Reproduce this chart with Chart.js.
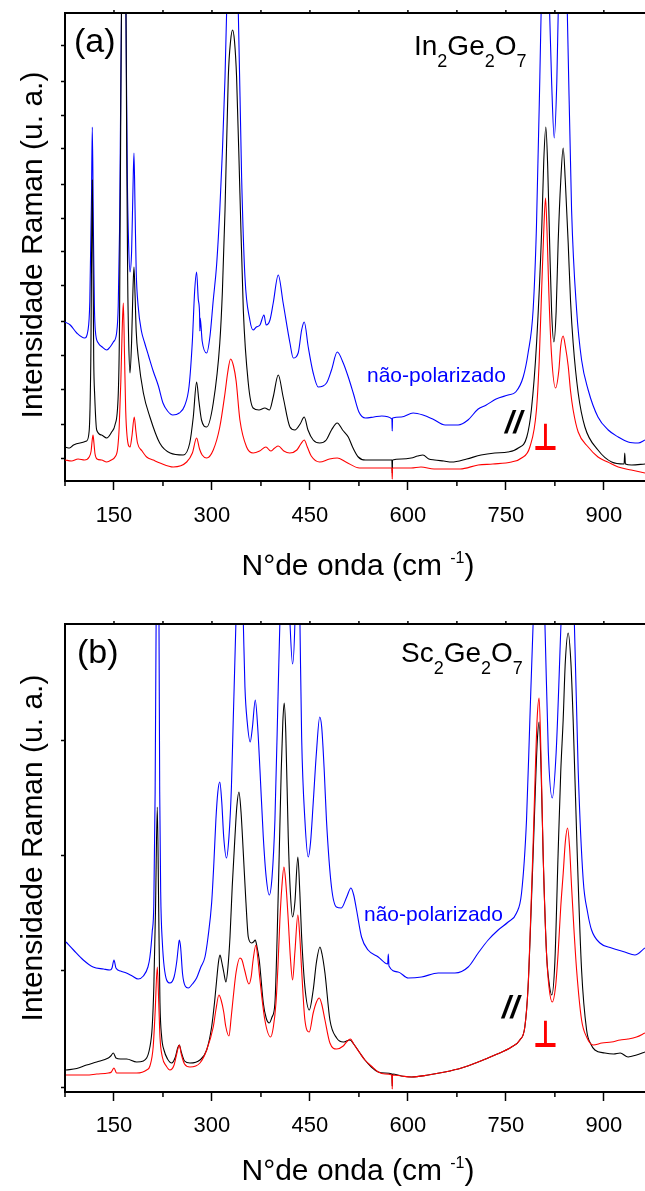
<!DOCTYPE html>
<html>
<head>
<meta charset="utf-8">
<script src="https://cdn.jsdelivr.net/npm/chart.js@4"></script>
<style>
  html, body { margin: 0; padding: 0; background: #fff; }
  canvas { display: block; }
</style>
</head>
<body>
<canvas id="panelA" width="645" height="596"></canvas>
<canvas id="panelB" width="645" height="595"></canvas>
<script>
// Raman spectra of In2Ge2O7 (a) and Sc2Ge2O7 (b): unpolarised, parallel (//) and crossed (⊥)
// wavenumber in cm-1, intensity in arbitrary units

const xMajor = [150, 300, 450, 600, 750, 900];
const xMinor = [75, 225, 375, 525, 675, 825];
const yTicksA = [23, 57, 92, 126, 160, 195, 229, 263, 297, 332, 366, 400, 435];
const yTicksB = [5, 122, 237, 352];

// (a) In2Ge2O7
const inUnpol = [[75,159],[83,156],[93,148],[105,143],[110,150],[113,180],[115.5,280],[116.8,354],[118.5,250],[120,175],[121.5,150],[126,138],[132,134],[139,131],[144,134],[149,139],[154,148],[156.5,175],[158.5,250],[160.5,400],[163,560],[165.5,600],[168.4,460],[170.5,300],[172.5,235],[174.5,209],[177,230],[179,290],[180.6,328],[182.3,270],[184,210],[187,175],[192,150],[197,138],[203,125],[210,110],[218,95],[225,78],[232,70],[240,66],[250,68],[258,75],[265,95],[270,140],[273.5,190],[276.5,209],[279,182],[281,168],[281.5,150],[282,163],[285,140],[291.9,128],[297,145],[302,181],[307,215],[312,271],[316,330],[320,404],[322.5,470],[331,620],[340.3,470],[345.4,304],[350.5,204],[358,161],[363,151],[368,154],[373.5,156],[379.6,166],[383,156],[388.8,161],[393.8,178],[401.5,206],[409,178],[419.4,138],[424.5,123],[432,128],[437.3,151],[441.3,159],[447.4,134],[455,108],[462.7,94],[475.4,98],[483,111],[491.8,129],[501,118],[508.7,104],[516.3,88],[525,69],[535,63],[548,64],[560,65],[575.5,62],[576,50],[576.5,63],[590,64],[608,68],[623,66],[638,62],[657,56],[677,56],[692,61],[707.6,72],[720,76],[735,82],[753.5,86],[765,89],[776.5,104],[784,128],[791.7,171],[796.8,254],[802,404],[804,470],[810,620],[816.5,480],[820,400],[824,343],[828,400],[830.5,480],[838,620],[844,470],[850.6,271],[858.3,171],[865.9,121],[876,91],[891,64],[906.7,51],[922,44],[937.3,39],[952.6,38],[963,41]];
const inPar = [[75,34],[82,33],[88,36],[98,38],[108,40],[112,50],[114.5,120],[116.8,301],[119,120],[120.5,85],[123.5,51],[131,46],[138.8,43],[146.4,49],[151.5,56],[156.6,88],[158.5,160],[160.5,380],[162,520],[165,650],[168,520],[169.5,330],[171,200],[172.5,140],[174.5,108],[177,140],[179,190],[180.6,214],[182.3,185],[184,150],[187.2,124],[195,88],[205,64],[220,38],[236,28],[256,26],[266,38],[271.4,64],[276.5,99],[280,80],[284,61],[291.9,54],[302,78],[312,138],[316,190],[320,271],[325,404],[328.5,440],[331.6,451],[334.5,440],[337.7,404],[342.8,288],[348,171],[355.6,98],[363,73],[372,71],[381,73],[388,71],[393.8,84],[401.5,106],[409,84],[419.4,54],[427,51],[435,57],[441.3,64],[447,51],[455,41],[465,38],[475,41],[483,51],[491.8,58],[500,51],[508.7,44],[516,33],[524,24],[535,21],[555,21],[575.5,21],[576,8],[576.5,21],[590,22],[605,23],[615,25],[623,26],[632,22],[641,21],[655,20],[667,19],[690,22],[712,26],[733,28],[753,29],[769,33],[782,44],[789,71],[797,138],[805,254],[808,320],[811.2,354],[814,315],[817,238],[820,170],[823.5,139],[827,170],[830,238],[834,300],[837.7,333],[841,300],[845.4,238],[849,180],[853,138],[860.7,88],[871,54],[891,31],[912,19],[931,17],[932,28],[933,17],[942.5,16],[963,17]];
const inPerp = [[75,21],[85,20],[95,22],[105,21],[112,24],[115,30],[116.5,40],[117.9,46],[119.3,38],[121,27],[124,22],[131,21],[138.8,19],[146,21],[151.5,24],[155.5,32],[158,54],[160.5,100],[162.5,150],[164.3,178],[166,130],[167.9,71],[170,45],[174.5,34],[177.5,45],[181,64],[183.5,50],[186,38],[193,30],[200,24],[210,21],[220.4,18],[240.8,14],[261.3,19],[270,28],[276.5,43],[281,32],[285,26],[291.9,23],[302,31],[312,54],[320,88],[324,108],[328.5,122],[333,115],[337,100],[342.8,61],[353,34],[363,28],[373,30],[382.6,34],[390,30],[396,33],[401.5,35],[410,30],[419,28],[430,31],[436,37],[441.3,41],[446,34],[452,25],[465,19],[480,22],[491.8,23],[505,19],[526,13],[545,13],[560,13],[575.5,13],[576,2],[576.5,13],[590,13],[605,13],[620,14],[640,12],[660,12],[680,12],[707.6,16],[730,17],[758.6,19],[774,23],[786.7,34],[796.8,71],[801,120],[804.6,188],[808,250],[810.7,283],[813,250],[815.8,188],[820,125],[826,93],[831,110],[834,135],[837.7,145],[841,135],[845.4,115],[849,90],[853,71],[860.7,49],[876,34],[891,24],[906,19],[922,14],[942,11],[963,8]];

// (b) Sc2Ge2O7
const scUnpol = [[76.5,150],[88,142],[103,132],[118,125],[134,123],[144,122],[147,124],[150,132],[153,124],[160,121],[169,119],[178,116],[187,113],[195,116],[202,125],[205,135],[208.5,160],[211,189],[213,300],[214.5,470],[216.5,620],[218.9,470],[220,300],[221.5,200],[224,150],[230.6,112],[235.7,109],[242,115],[246,130],[248.5,145],[250,152],[252,145],[255,118],[259,106],[263.8,104],[270,108],[276.5,114],[283,125],[289.3,135],[294,155],[299.5,189],[303,230],[306,272],[309,300],[312,310],[315,290],[318,255],[322.2,234],[326,255],[329.8,305],[332.5,370],[336.7,470],[342,620],[348,470],[350.5,405],[354,370],[358.6,350],[362,365],[366.3,392],[370,365],[373.5,322],[378.6,255],[383,215],[387.8,197],[392,215],[396.4,272],[401.5,405],[404,470],[411,620],[419.4,470],[423.4,428],[427,470],[431,620],[434.7,470],[437.3,355],[442.3,272],[447.4,235],[451,250],[455,289],[460,340],[465,375],[468,365],[472,320],[475.3,272],[483,205],[490.6,185],[498,184],[506.3,195],[512.8,204],[517,197],[521.4,182],[529,155],[539,142],[554.6,135],[569,128],[570,138],[571,126],[585,120],[600.5,114],[620.8,115],[646.4,119],[672,119],[692.3,125],[707.6,139],[722.9,152],[738.2,162],[753.5,170],[766.3,179],[774,199],[781.6,272],[786.7,372],[791.8,470],[801,620],[809.7,470],[815,340],[821,294],[827,340],[834.5,470],[844,620],[854.8,470],[860.7,322],[868.4,212],[875,180],[881.2,162],[894,149],[911.8,144],[932,140],[947.5,137],[962.8,144]];
const scPar = [[76.5,22],[93,23.5],[108,27],[123.5,30],[141.3,34],[145,36],[149,39],[153,34],[160,33],[169.4,33],[184.7,30],[195,31],[205,45],[208.5,65],[211,105],[213.5,180],[216.3,285],[218.5,180],[220.4,89],[223,55],[226.5,42],[232,33],[238.3,29],[244,35],[247.5,44],[250,47],[253,40],[258,31],[266.3,29],[281.6,32],[291.9,42],[299.5,65],[304,90],[307.2,112],[310,130],[312.3,137],[315,130],[318,120],[321.4,110],[324.5,125],[327.6,155],[331,205],[335.2,255],[338,285],[341.3,300],[344.5,280],[348,239],[352,190],[355.6,155],[360.7,149],[363.5,150],[366.3,152],[369,145],[372.4,132],[378.6,89],[383,74],[387.8,69],[392,75],[396.4,89],[400,160],[403,239],[406,320],[408.5,370],[410.6,389],[413,360],[416.8,255],[420,200],[423.4,175],[427,190],[431.5,235],[434.5,200],[437.3,155],[442.3,105],[449,82],[455,102],[460,130],[465.3,145],[468.5,138],[473,119],[480.6,72],[490.9,54],[501,50],[506,51],[511.2,52],[517,48],[526.5,39],[534.2,32],[544,25],[554.6,20],[565,19],[575.5,18],[576,6],[576.5,18],[590,16],[605.6,15],[631,17],[656.6,20],[682,24],[707.6,30],[733.2,37],[758.6,45],[771.4,52],[779,65],[784,105],[788,170],[791.8,239],[795,300],[798,350],[800.9,370],[804,320],[807,239],[812.2,139],[816,110],[820.3,97],[825,130],[830,239],[834,320],[837.7,372],[841,430],[845.4,459],[849.5,430],[853,372],[859.2,239],[865.9,122],[873.6,62],[880,48],[886.3,42],[901.6,39],[915,38],[925,39],[937,35],[950,37],[963,40]];
const scPerp = [[76.5,17],[93,17],[108,17],[123.5,18],[141.3,19],[146,20],[150,24],[154,19],[169.4,19],[184.7,19],[200,22],[205,26],[210,45],[213,80],[216.3,125],[218.5,90],[220.4,55],[224,35],[230,26],[235.7,22],[242,27],[246,38],[250,47],[253,38],[258,28],[266.3,25],[281.6,29],[291.9,42],[302,65],[306,82],[310.7,97],[314,92],[318,80],[321,66],[326,56],[329.5,75],[332.6,95],[337,120],[342.8,134],[346,132],[350,122],[356.6,108],[360,115],[363,132],[367.3,147],[370,135],[373.5,112],[381,72],[389.8,55],[394,65],[398,89],[401,125],[404,172],[407,205],[410.2,225],[413,210],[416.8,172],[420,135],[423.4,112],[427,140],[431.5,177],[434.5,155],[437.3,122],[442.3,72],[449,60],[455,79],[460,90],[464.3,94],[468,88],[473,72],[480.6,49],[490.9,43],[501,46],[506,50],[512.2,53],[517,48],[526.5,39],[534.2,32],[544,26],[554.6,20],[565,18],[575.5,17],[576,3],[576.5,17],[590,16],[605.6,15],[631,17],[656.6,20],[682,24],[707.6,30],[733.2,37],[758.6,45],[771.4,52],[779,65],[784,105],[788,175],[791.8,250],[795,320],[798,375],[800.9,394],[804,330],[807,239],[812.2,139],[816,105],[821,90],[826,105],[830,139],[834,185],[837.8,219],[841,250],[844.4,264],[847.5,245],[850.6,205],[854,165],[858.3,122],[865.9,72],[873.6,55],[883.7,47],[897,49],[911.8,50],[925,52],[937,53],[950,55],[963,59]];

const SANS = '"Liberation Sans", Arial, Helvetica, sans-serif';

function toPoints(pairs) {
  return pairs.map(([x, y]) => ({ x, y }));
}

// draws a row of text runs: [text, fontSize, baselineShift]
function drawRuns(ctx, x, y, runs) {
  runs.forEach(([txt, size, dy]) => {
    ctx.font = size + 'px ' + SANS;
    ctx.fillText(txt, x, y + dy);
    x += ctx.measureText(txt).width;
  });
}

function runsWidth(ctx, runs) {
  let w = 0;
  runs.forEach(([txt, size]) => {
    ctx.font = size + 'px ' + SANS;
    w += ctx.measureText(txt).width;
  });
  return w;
}

function makeFrame(o) {
  return {
    id: 'frame',
    afterDraw(chart) {
      const { ctx, chartArea: a } = chart;
      const x = chart.scales.x;
      ctx.save();
      ctx.strokeStyle = '#000';
      ctx.fillStyle = '#000';

      // top border
      ctx.lineWidth = 2;
      ctx.beginPath();
      ctx.moveTo(a.left - 1, a.top);
      ctx.lineTo(a.right, a.top);
      ctx.stroke();

      // minor ticks below the axis, short ticks above the top border
      ctx.lineWidth = 1.5;
      ctx.beginPath();
      xMinor.forEach(v => {
        const px = x.getPixelForValue(v);
        ctx.moveTo(px, a.bottom);
        ctx.lineTo(px, a.bottom + 5);
      });
      xMajor.concat(xMinor.slice(1)).forEach(v => {
        const px = x.getPixelForValue(v);
        ctx.moveTo(px, a.top);
        ctx.lineTo(px, a.top - 3);
      });
      ctx.stroke();

      // y axis title
      ctx.save();
      ctx.translate(42, o.yTitleY);
      ctx.rotate(-Math.PI / 2);
      ctx.textAlign = 'center';
      ctx.font = '30px ' + SANS;
      ctx.fillText('Intensidade Raman (u. a.)', 0, 0);
      ctx.restore();

      // x axis title with superscript
      const xt = [['N°de onda (cm ', 30, 0], ['-1', 16, -12], [')', 30, 0]];
      drawRuns(ctx, 358 - runsWidth(ctx, xt) / 2, o.xTitleY, xt);

      // panel letter and compound
      ctx.font = '34px ' + SANS;
      ctx.fillText(o.label, o.labelPos[0], o.labelPos[1]);
      drawRuns(ctx, o.formulaPos[0], o.formulaPos[1],
        o.formula.map(([t, sub]) => sub ? [t, 18, 12] : [t, 28, 0]));

      // curve labels
      ctx.fillStyle = '#0000ff';
      ctx.font = '21px ' + SANS;
      ctx.fillText('não-polarizado', o.unpolPos[0], o.unpolPos[1]);

      ctx.fillStyle = '#000';
      ctx.font = 'italic bold 31px ' + SANS;
      ctx.fillText('//', o.parPos[0], o.parPos[1]);

      // crossed-polarisation mark, fitted to its box
      ctx.fillStyle = '#ff0000';
      ctx.font = 'bold 40px "DejaVu Sans"';
      const m = ctx.measureText('⊥');
      const gw = m.actualBoundingBoxLeft + m.actualBoundingBoxRight;
      const gh = m.actualBoundingBoxAscent + m.actualBoundingBoxDescent;
      const [bx, by, bw, bh] = o.perpBox;
      ctx.translate(bx, by);
      ctx.scale(bw / gw, bh / gh);
      ctx.fillText('⊥', m.actualBoundingBoxLeft, m.actualBoundingBoxAscent);
      ctx.restore();
    }
  };
}

function panel(canvasId, o) {
  return new Chart(document.getElementById(canvasId), {
    type: 'line',
    data: {
      datasets: [
        { data: toPoints(o.perp), borderColor: '#ff0000' },
        { data: toPoints(o.par), borderColor: '#000000' },
        { data: toPoints(o.unpol), borderColor: '#0000ff' }
      ]
    },
    options: {
      responsive: false,
      animation: false,
      events: [],
      layout: { padding: { top: o.top, left: 0, right: 0, bottom: 0 } },
      elements: {
        point: { radius: 0 },
        line: { borderWidth: 1.1, cubicInterpolationMode: 'monotone', fill: false }
      },
      plugins: { legend: { display: false }, tooltip: { enabled: false } },
      scales: {
        x: {
          type: 'linear',
          min: 75,
          max: 963,
          afterBuildTicks: s => { s.ticks = xMajor.map(v => ({ value: v })); },
          afterFit: s => { s.height = o.axisH; },
          ticks: { color: '#000', font: { family: SANS, size: 22 }, padding: o.labelPad, maxRotation: 0, autoSkip: false },
          grid: { drawOnChartArea: false, drawTicks: true, tickLength: 9, tickWidth: 1.5, tickColor: '#000' },
          border: { display: true, color: '#000', width: 2 }
        },
        y: {
          type: 'linear',
          min: 0,
          max: 468,
          afterBuildTicks: s => { s.ticks = o.yTicks.map(v => ({ value: v })); },
          afterFit: s => { s.width = 65; },
          ticks: { display: false },
          grid: { drawOnChartArea: false, drawTicks: true, tickLength: 4, tickWidth: 1.5, tickColor: '#000' },
          border: { display: true, color: '#000', width: 2 }
        }
      }
    },
    plugins: [makeFrame(o)]
  });
}

panel('panelA', {
  top: 13, axisH: 115, yTicks: yTicksA, labelPad: 13,
  unpol: inUnpol, par: inPar, perp: inPerp,
  label: '(a)', labelPos: [74, 52],
  formula: [['In', 0], ['2', 1], ['Ge', 0], ['2', 1], ['O', 0], ['7', 1]], formulaPos: [414, 55],
  unpolPos: [367, 382], parPos: [505, 433], perpBox: [535, 423, 21, 27],
  yTitleY: 245, xTitleY: 575
});

panel('panelB', {
  top: 28, axisH: 99, yTicks: yTicksB, labelPad: 12,
  unpol: scUnpol, par: scPar, perp: scPerp,
  label: '(b)', labelPos: [77, 67],
  formula: [['Sc', 0], ['2', 1], ['Ge', 0], ['2', 1], ['O', 0], ['7', 1]], formulaPos: [401, 66],
  unpolPos: [364, 325], parPos: [502, 422], perpBox: [535, 424, 21, 27],
  yTitleY: 252, xTitleY: 584
});
</script>
</body>
</html>
